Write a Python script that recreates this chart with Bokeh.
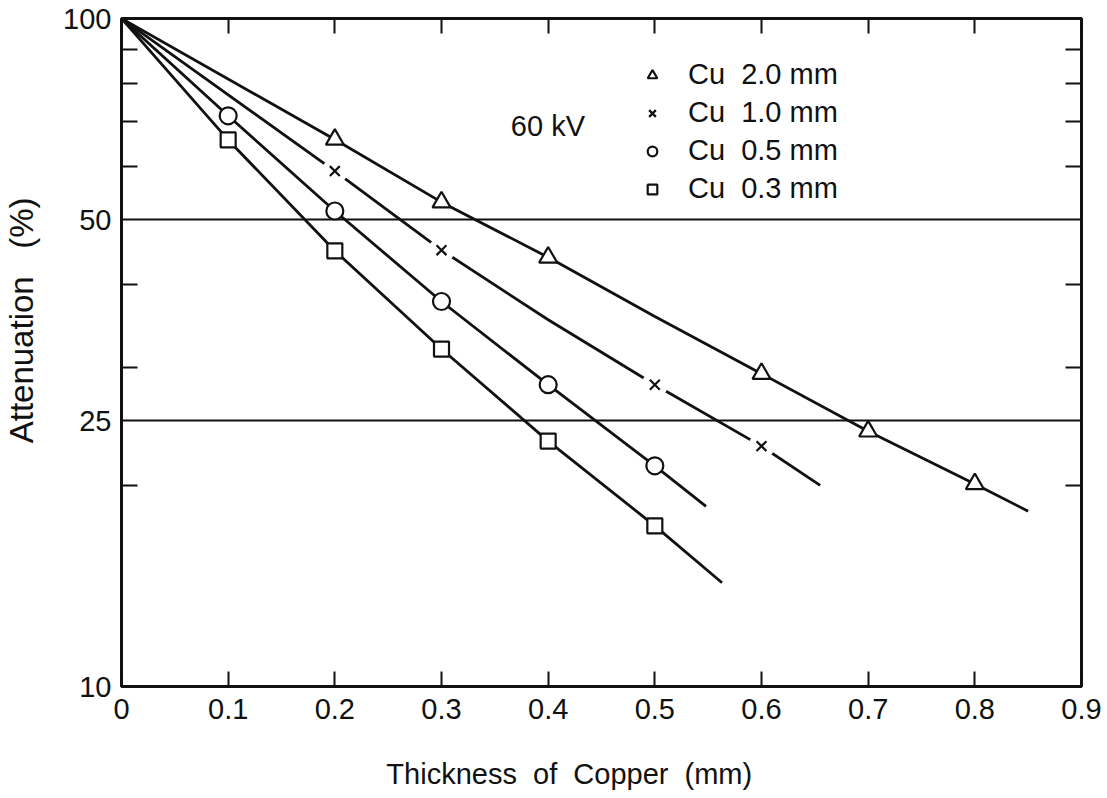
from bokeh.plotting import figure
from bokeh.models import (LogAxis, LinearAxis, FixedTicker, Label, Legend, LegendItem, Range1d)
from bokeh.embed import file_html
from bokeh.resources import INLINE

# ---- data ----
tri_x = [0.2, 0.3, 0.4, 0.6, 0.7, 0.8]
tri_y = [65.9, 53.1, 43.9, 29.4, 24.1, 20.1]
crs_x = [0.2, 0.3, 0.5, 0.6]
crs_y = [59.1, 45.0, 28.3, 22.9]
cir_x = [0.1, 0.2, 0.3, 0.4, 0.5]
cir_y = [71.5, 51.5, 37.7, 28.3, 21.4]
sq_x = [0.1, 0.2, 0.3, 0.4, 0.5]
sq_y = [65.8, 44.9, 32.0, 23.3, 17.4]

tri_curve_x = [0, 0.2, 0.3, 0.4, 0.5, 0.6, 0.7, 0.8, 0.85]
tri_curve_y = [100, 65.9, 53.1, 43.9, 35.8, 29.4, 24.1, 20.1, 18.3]
crs_curve_x = [0, 0.2, 0.3, 0.4, 0.5, 0.6, 0.655]
crs_curve_y = [100, 59.1, 45.0, 35.4, 28.3, 22.9, 20.0]
cir_curve_x = [0, 0.1, 0.2, 0.3, 0.4, 0.5, 0.548]
cir_curve_y = [100, 71.5, 51.5, 37.7, 28.3, 21.4, 18.6]
sq_curve_x = [0, 0.1, 0.2, 0.3, 0.4, 0.5, 0.563]
sq_curve_y = [100, 65.8, 44.9, 32.0, 23.3, 17.4, 14.3]

x_ticks = [0, 0.1, 0.2, 0.3, 0.4, 0.5, 0.6, 0.7, 0.8, 0.9]
x_tick_labels = ["0", "0.1", "0.2", "0.3", "0.4", "0.5", "0.6", "0.7", "0.8", "0.9"]
y_ticks = [10, 25, 50, 100]
y_minor = [20, 30, 40, 60, 70, 80, 90]
grid_values = [25, 50]
legend_labels = ["Cu\u00a0 2.0 mm", "Cu\u00a0 1.0 mm", "Cu\u00a0 0.5 mm", "Cu\u00a0 0.3 mm"]

FONT = "'Liberation Sans Narrow', 'Liberation Sans', sans-serif"
INK = "#111111"
NB = "\u00a0"

p = figure(width=1107, height=798, y_axis_type="log",
           x_range=Range1d(0, 0.9), y_range=Range1d(10, 100),
           output_backend="svg", toolbar_location=None,
           min_border_left=121, min_border_right=26,
           min_border_top=18, min_border_bottom=112)
p.background_fill_color = "white"
p.border_fill_color = "white"
p.outline_line_color = INK
p.outline_line_width = 2.8

# axes
xa = p.xaxis[0]
xa.ticker = FixedTicker(ticks=x_ticks, minor_ticks=[])
xa.major_label_overrides = {t: l for t, l in zip(x_ticks, x_tick_labels)}
ya = p.yaxis[0]
ya.ticker = FixedTicker(ticks=y_ticks, minor_ticks=y_minor)
ya.major_label_overrides = {t: str(t) for t in y_ticks}

for ax in (xa, ya):
    ax.axis_line_color = INK
    ax.axis_line_width = 2.8
    ax.major_tick_line_color = INK
    ax.major_tick_line_width = 2
    ax.minor_tick_line_color = INK
    ax.minor_tick_line_width = 2
    ax.major_tick_out = 0
    ax.minor_tick_out = 0
    ax.major_label_text_font = FONT
    ax.major_label_text_font_size = "29px"
    ax.major_label_text_color = INK
    ax.axis_label_text_font = FONT
    ax.axis_label_text_font_style = "normal"
    ax.axis_label_text_color = INK

xa.major_tick_in = 15
xa.minor_tick_in = 0
xa.major_label_standoff = 12
xa.axis_label = "Thickness" + NB * 2 + "of" + NB * 2 + "Copper" + NB * 2 + "(mm)" + NB * 8
xa.axis_label_text_font_size = "29px"
xa.axis_label_standoff = 36
ya.major_tick_in = 0
ya.minor_tick_in = 16
ya.major_label_standoff = 10
ya.axis_label = NB * 7 + "Attenuation" + NB * 3 + "(%)"
ya.axis_label_text_font_size = "33px"
ya.axis_label_standoff = 20

top = LinearAxis(ticker=FixedTicker(ticks=x_ticks, minor_ticks=[]),
                 major_label_overrides={t: "" for t in x_ticks},
                 major_tick_in=15, major_tick_out=0,
                 axis_line_color=INK, axis_line_width=2.8,
                 major_tick_line_color=INK, major_tick_line_width=2)
p.add_layout(top, "above")
right = LogAxis(ticker=FixedTicker(ticks=y_ticks, minor_ticks=y_minor),
                major_label_overrides={t: "" for t in y_ticks},
                major_tick_in=0, major_tick_out=0,
                minor_tick_in=16, minor_tick_out=0,
                axis_line_color=INK, axis_line_width=2.8,
                minor_tick_line_color=INK, minor_tick_line_width=2)
p.add_layout(right, "right")

p.xgrid.visible = False
p.ygrid.ticker = FixedTicker(ticks=grid_values, minor_ticks=[])
p.ygrid.grid_line_color = INK
p.ygrid.grid_line_width = 1.8
p.ygrid.grid_line_alpha = 1.0

# curves
for cx, cy in [(tri_curve_x, tri_curve_y), (crs_curve_x, crs_curve_y),
               (cir_curve_x, cir_curve_y), (sq_curve_x, sq_curve_y)]:
    p.line(cx, cy, line_color=INK, line_width=2.8)

# gaps around the crosses
p.scatter(crs_x, crs_y, marker="circle", size=26, fill_color="white", line_color=None)

r_tri = p.scatter(tri_x, tri_y, marker="triangle", size=18, fill_color="white",
                  line_color=INK, line_width=2.2)
r_crs = p.scatter(crs_x, crs_y, marker="x", size=14, line_color=INK, line_width=2.2)
r_cir = p.scatter(cir_x, cir_y, marker="circle", size=17, fill_color="white",
                  line_color=INK, line_width=2.2)
r_sq = p.scatter(sq_x, sq_y, marker="square", size=15, fill_color="white",
                 line_color=INK, line_width=2.2)

legend = Legend(items=[LegendItem(label=l, renderers=[r]) for l, r in
                       zip(legend_labels, [r_tri, r_crs, r_cir, r_sq])],
                location=(519, 481), orientation="vertical",
                border_line_color=None, background_fill_alpha=0,
                padding=0, margin=0, spacing=5,
                glyph_width=24, glyph_height=26, label_standoff=24,
                label_text_font=FONT, label_text_font_size="29px",
                label_text_color=INK)
p.add_layout(legend, "center")

p.add_layout(Label(x=0.365, y=69, text="60 kV", text_font=FONT,
                   text_font_size="29px", text_color=INK, text_baseline="middle"))

open("out.html", "w").write(file_html(p, INLINE))
